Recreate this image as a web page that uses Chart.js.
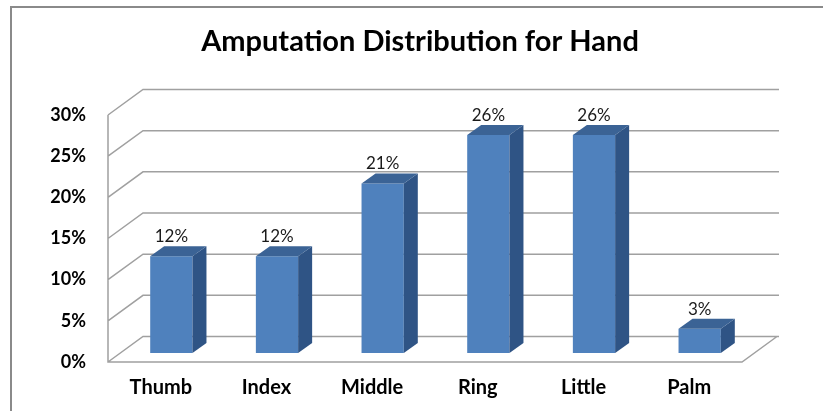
<!DOCTYPE html>
<html><head><meta charset="utf-8">
<script src="https://cdn.jsdelivr.net/npm/chart.js@4/dist/chart.umd.min.js"></script>
<style>html,body{margin:0;padding:0;background:#fff;overflow:hidden}canvas{display:block}</style>
</head><body>
<canvas id="c" width="823" height="411"></canvas>
<script>
const categories = ['Thumb', 'Index', 'Middle', 'Ring', 'Little', 'Palm'];
const shares = [11.76, 11.76, 20.59, 26.47, 26.47, 2.94];
const yTicks = [0, 5, 10, 15, 20, 25, 30];
const chartTitle = 'Amputation Distribution for Hand';

const WALL = {dx: 35, dy: -25.5};
const BAR_SHIFT = {dx: 10.5, dy: -9};
const BAR_DEPTH = {dx: 14, dy: -10};

const frame3d = {
  id: 'frame3d',
  beforeDraw(chart) {
    const ctx = chart.ctx;
    ctx.save();
    ctx.strokeStyle = '#8a8a8a';
    ctx.lineWidth = 2;
    ctx.beginPath();
    ctx.moveTo(11, 411); ctx.lineTo(11, 7); ctx.lineTo(823, 7);
    ctx.stroke();
    ctx.restore();
  },
  beforeDatasetsDraw(chart) {
    const {ctx, chartArea: a, scales: {y}} = chart;
    ctx.save();
    ctx.strokeStyle = '#a0a0a0';
    ctx.lineWidth = 1.5;
    ctx.beginPath();
    yTicks.forEach(v => {
      const py = y.getPixelForValue(v);
      ctx.moveTo(a.left, py);
      ctx.lineTo(a.left + WALL.dx, py + WALL.dy);
      ctx.lineTo(a.right + WALL.dx + 2, py + WALL.dy);
    });
    ctx.moveTo(a.left, y.getPixelForValue(yTicks[yTicks.length - 1]));
    ctx.lineTo(a.left, a.bottom);
    ctx.lineTo(a.right, a.bottom);
    ctx.lineTo(a.right + WALL.dx, a.bottom + WALL.dy);
    ctx.stroke();
    ctx.restore();
    ctx.save();
    ctx.translate(BAR_SHIFT.dx, BAR_SHIFT.dy);
  },
  afterDatasetsDraw(chart) {
    const ctx = chart.ctx;
    const meta = chart.getDatasetMeta(0);
    const ds = chart.data.datasets[0].data;
    meta.data.forEach((bar, i) => {
      const {x, y, base, width} = bar.getProps(['x', 'y', 'base', 'width'], true);
      const l = x - width / 2, r = x + width / 2;
      const dx = BAR_DEPTH.dx, dy = BAR_DEPTH.dy;
      ctx.fillStyle = '#2F5485';
      ctx.beginPath();
      ctx.moveTo(r, y); ctx.lineTo(r + dx, y + dy); ctx.lineTo(r + dx, base + dy); ctx.lineTo(r, base);
      ctx.closePath(); ctx.fill();
      ctx.fillStyle = '#3B6395';
      ctx.beginPath();
      ctx.moveTo(l, y); ctx.lineTo(l + dx, y + dy); ctx.lineTo(r + dx, y + dy); ctx.lineTo(r, y);
      ctx.closePath(); ctx.fill();
      ctx.fillStyle = '#1a1a1a';
      ctx.font = '17px Lato';
      ctx.textAlign = 'center';
      ctx.textBaseline = 'alphabetic';
      ctx.fillText(Math.round(ds[i]) + '%', x, y + dy - 4);
    });
    ctx.restore();
  }
};

new Chart(document.getElementById('c'), {
  type: 'bar',
  data: {
    labels: categories,
    datasets: [{
      data: shares,
      backgroundColor: '#4F81BD',
      barPercentage: 0.4,
      categoryPercentage: 1,
      clip: false
    }]
  },
  options: {
    responsive: false,
    animation: false,
    devicePixelRatio: 1,
    layout: {padding: {left: 17, right: 0, top: 0, bottom: 0}},
    plugins: {
      legend: {display: false},
      tooltip: {enabled: false},
      title: {
        display: true,
        text: chartTitle,
        color: '#000',
        font: {family: 'Lato', size: 29, weight: 'bold'},
        padding: {top: 24.5, bottom: 55.7}
      }
    },
    scales: {
      x: {
        grid: {display: false, drawTicks: false},
        border: {display: false},
        ticks: {color: '#000', font: {family: 'Lato', size: 20, weight: 'bold'}, padding: 14, maxRotation: 0},
        afterFit(s) { s.height = 49; }
      },
      y: {
        min: 0, max: 30,
        grid: {display: false, drawTicks: false},
        border: {display: false},
        ticks: {color: '#000', font: {family: 'Lato', size: 18, weight: 'bold'}, padding: 22, callback: v => v + '%'},
        afterBuildTicks(s) { s.ticks = yTicks.map(v => ({value: v})); },
        afterFit(s) { s.width = 91; }
      },
      yRight: {
        position: 'right',
        display: true,
        grid: {display: false, drawTicks: false},
        border: {display: false},
        ticks: {display: false},
        afterFit(s) { s.width = 81; }
      }
    }
  },
  plugins: [frame3d]
});
</script>
</body></html>
